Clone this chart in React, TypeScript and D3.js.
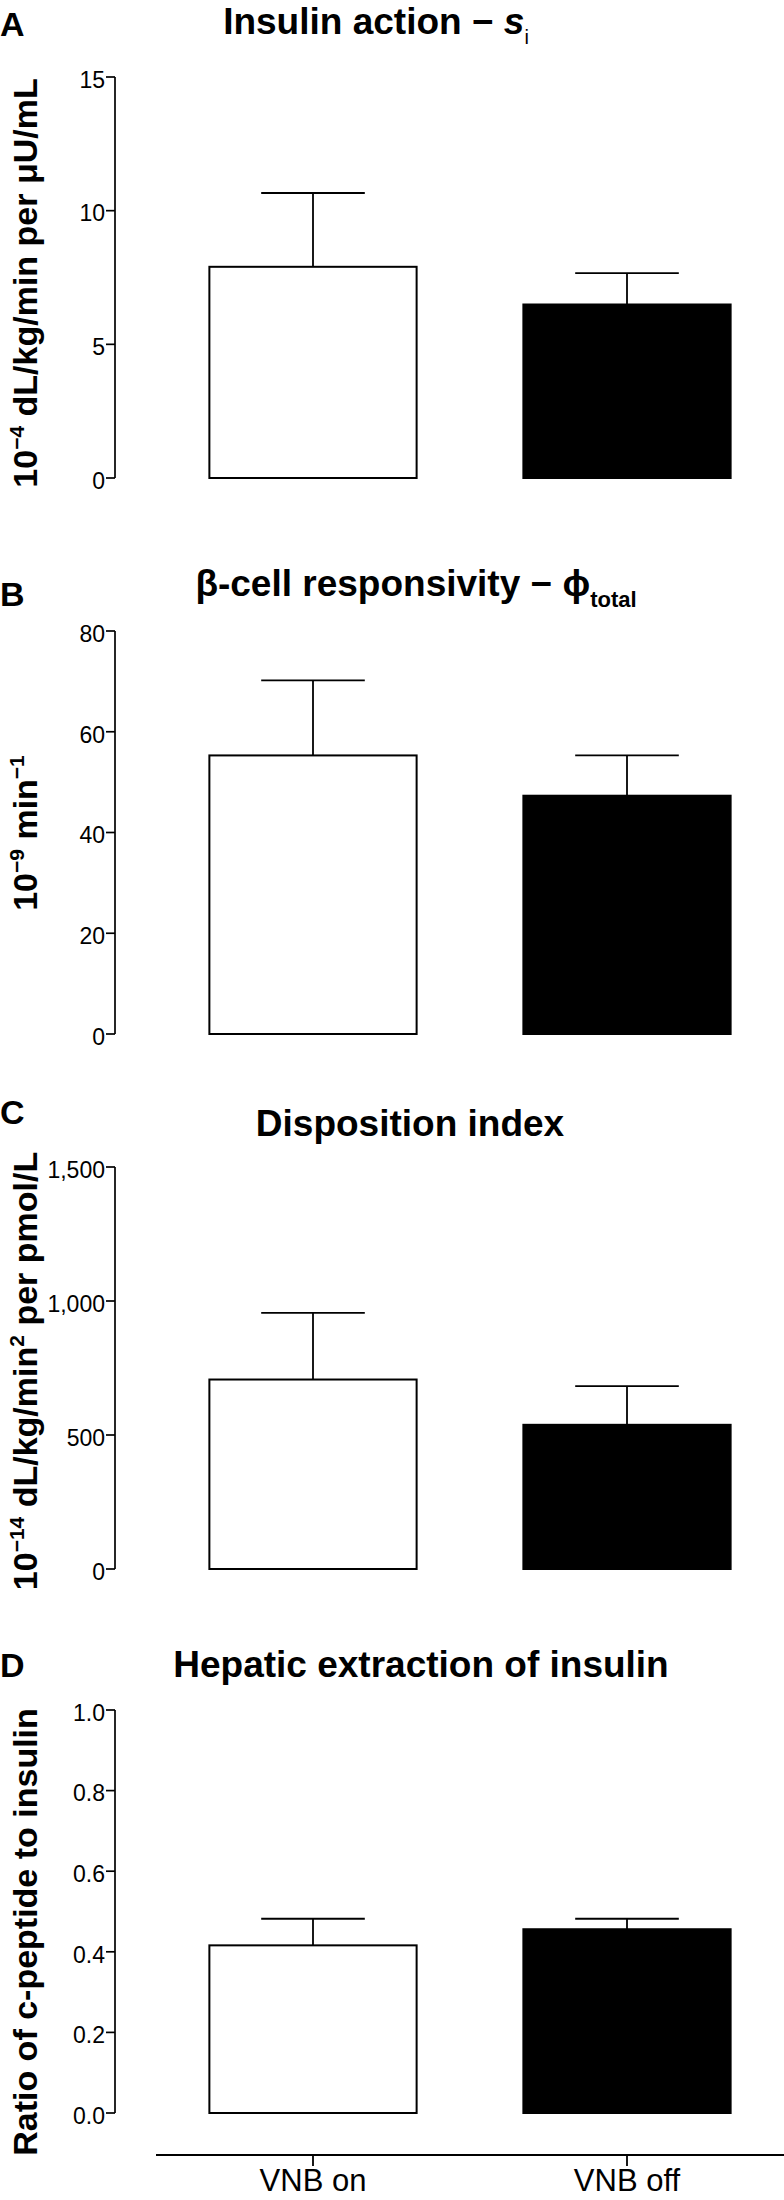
import React from "react";
import * as d3 from "d3";

const groups = ["VNB on", "VNB off"];

const siMean = [7.9, 6.49];
const siSem = [2.76, 1.17];
const siTicks = [0, 5, 10, 15];

const phiMean = [55.3, 47.3];
const phiSem = [14.9, 8.0];
const phiTicks = [0, 20, 40, 60, 80];

const diMean = [707, 538];
const diSem = [249, 144];
const diTicks = [0, 500, 1000, 1500];

const heMean = [0.416, 0.456];
const heSem = [0.066, 0.026];
const heTicks = [0, 0.2, 0.4, 0.6, 0.8, 1.0];

const FONT = "'Liberation Sans', Arial, Helvetica, sans-serif";
const W = 784;
const H = 2200;
const AXIS_X = 115;

const x = d3.scaleBand<string>().domain(groups).range([156, 784]).paddingInner(0.34).paddingOuter(0.17);
const fills = ["#ffffff", "#000000"];

type Panel = {
  letter: string;
  letterY: number;
  titleX: number;
  titleY: number;
  title: React.ReactNode;
  yTop: number;
  yBottom: number;
  domain: [number, number];
  ticks: number[];
  fmt: (v: number) => string;
  mean: number[];
  sem: number[];
  ylabel: React.ReactNode;
  ylabelY: number;
};

const panels: Panel[] = [
  {
    letter: "A",
    letterY: 36,
    titleX: 376,
    titleY: 34,
    title: (
      <>
        <tspan>Insulin action − </tspan>
        <tspan fontStyle="italic">s</tspan>
        <tspan fontSize={20} fontWeight="normal" dy={10}>i</tspan>
      </>
    ),
    yTop: 77,
    yBottom: 478,
    domain: [0, 15],
    ticks: siTicks,
    fmt: d3.format("d"),
    mean: siMean,
    sem: siSem,
    ylabel: (
      <>
        <tspan>10</tspan>
        <tspan fontSize={21} dy={-13}>−4</tspan>
        <tspan dy={13}> dL/kg/min per μU/mL</tspan>
      </>
    ),
    ylabelY: 283,
  },
  {
    letter: "B",
    letterY: 606,
    titleX: 416,
    titleY: 596,
    title: (
      <>
        <tspan>β-cell responsivity − ϕ</tspan>
        <tspan fontSize={22} dy={11}>total</tspan>
      </>
    ),
    yTop: 631,
    yBottom: 1034,
    domain: [0, 80],
    ticks: phiTicks,
    fmt: d3.format("d"),
    mean: phiMean,
    sem: phiSem,
    ylabel: (
      <>
        <tspan>10</tspan>
        <tspan fontSize={21} dy={-13}>−9</tspan>
        <tspan dy={13}> min</tspan>
        <tspan fontSize={21} dy={-13}>−1</tspan>
      </>
    ),
    ylabelY: 833,
  },
  {
    letter: "C",
    letterY: 1124,
    titleX: 410,
    titleY: 1136,
    title: <tspan>Disposition index</tspan>,
    yTop: 1167,
    yBottom: 1569,
    domain: [0, 1500],
    ticks: diTicks,
    fmt: d3.format(","),
    mean: diMean,
    sem: diSem,
    ylabel: (
      <>
        <tspan>10</tspan>
        <tspan fontSize={21} dy={-13}>−14</tspan>
        <tspan dy={13}> dL/kg/min</tspan>
        <tspan fontSize={21} dy={-13}>2</tspan>
        <tspan dy={13}> per pmol/L</tspan>
      </>
    ),
    ylabelY: 1371,
  },
  {
    letter: "D",
    letterY: 1677,
    titleX: 421,
    titleY: 1677,
    title: <tspan>Hepatic extraction of insulin</tspan>,
    yTop: 1710,
    yBottom: 2113,
    domain: [0, 1],
    ticks: heTicks,
    fmt: d3.format(".1f"),
    mean: heMean,
    sem: heSem,
    ylabel: <tspan>Ratio of c-peptide to insulin</tspan>,
    ylabelY: 1932,
  },
];

function PanelView({ p }: { p: Panel }) {
  const y = d3.scaleLinear().domain(p.domain).range([p.yBottom, p.yTop]);
  const bw = x.bandwidth();
  return (
    <g>
      <text x={0} y={p.letterY} fontFamily={FONT} fontWeight="bold" fontSize={34}>
        {p.letter}
      </text>
      <text x={p.titleX} y={p.titleY} fontFamily={FONT} fontWeight="bold" fontSize={37} textAnchor="middle">
        {p.title}
      </text>
      <text
        transform={`translate(37,${p.ylabelY}) rotate(-90)`}
        fontFamily={FONT}
        fontWeight="bold"
        fontSize={34}
        textAnchor="middle"
      >
        {p.ylabel}
      </text>
      <line x1={AXIS_X} x2={AXIS_X} y1={y(p.domain[1])} y2={y(p.domain[0])} stroke="#000" strokeWidth={1.7} />
      {p.ticks.map((t) => (
        <g key={t}>
          <line x1={AXIS_X - 9} x2={AXIS_X} y1={y(t)} y2={y(t)} stroke="#000" strokeWidth={1.7} />
          <text x={AXIS_X - 10} y={y(t)} dy="0.47em" textAnchor="end" fontFamily={FONT} fontSize={23}>
            {p.fmt(t)}
          </text>
        </g>
      ))}
      {groups.map((g, i) => {
        const x0 = x(g) as number;
        const cx = x0 + bw / 2;
        const top = y(p.mean[i]);
        const errTop = y(p.mean[i] + p.sem[i]);
        return (
          <g key={g}>
            <line x1={cx} x2={cx} y1={top} y2={errTop} stroke="#000" strokeWidth={1.8} />
            <line x1={cx - bw * 0.25} x2={cx + bw * 0.25} y1={errTop} y2={errTop} stroke="#000" strokeWidth={1.8} />
            <rect x={x0} y={top} width={bw} height={y(0) - top} fill={fills[i]} stroke="#000" strokeWidth={2} />
          </g>
        );
      })}
    </g>
  );
}

export default function App() {
  const xAxisY = 2155;
  return (
    <svg width={W} height={H} style={{ position: "absolute", left: 0, top: 0, background: "#fff" }}>
      <rect x={0} y={0} width={W} height={H} fill="#fff" />
      {panels.map((p) => (
        <PanelView key={p.letter} p={p} />
      ))}
      <line x1={156} x2={784} y1={xAxisY} y2={xAxisY} stroke="#000" strokeWidth={1.8} />
      {groups.map((g) => {
        const cx = (x(g) as number) + x.bandwidth() / 2;
        return (
          <g key={g}>
            <line x1={cx} x2={cx} y1={xAxisY} y2={xAxisY + 11} stroke="#000" strokeWidth={1.8} />
            <text x={cx} y={2191} textAnchor="middle" fontFamily={FONT} fontSize={31}>
              {g}
            </text>
          </g>
        );
      })}
    </svg>
  );
}
